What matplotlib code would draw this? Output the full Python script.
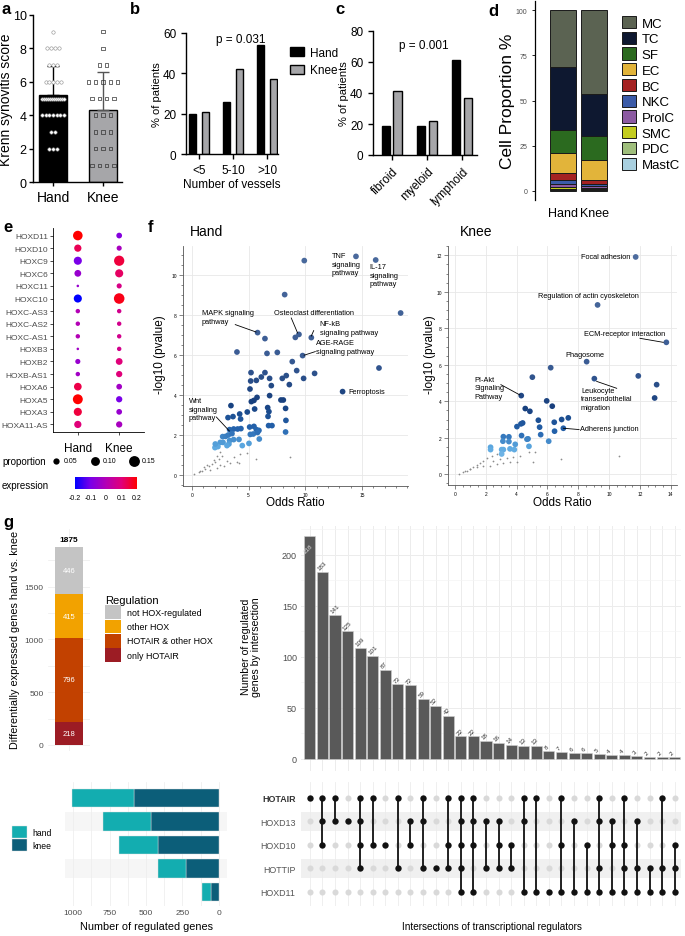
import numpy as np
import matplotlib

matplotlib.use("Agg")
import matplotlib.pyplot as plt
from matplotlib.cm import ScalarMappable
from matplotlib.colors import LinearSegmentedColormap, Normalize
from matplotlib.patches import Patch

W, H = 685, 937
plt.rcParams["font.family"] = ["Liberation Sans", "DejaVu Sans"]
plt.rcParams["axes.unicode_minus"] = False

# ---------------- data ----------------
# a: Krenn synovitis score per patient
hand_scores = [9] + [8] * 4 + [7] * 3 + [6] * 5 + [5] * 12 + [4] * 7 + [3] * 2 + [2] * 3
knee_scores = [9, 8, 7, 7] + [6] * 5 + [5] * 4 + [4] * 3 + [3] * 3 + [2] * 3 + [1] * 4

# b, c: % of patients
vessel_cats = ["<5", "5-10", ">10"]
vessel_hand = [20, 26, 54]
vessel_knee = [21, 42, 37]
infl_cats = ["fibroid", "myeloid", "lymphoid"]
infl_hand = [19, 19, 61]
infl_knee = [41, 22, 37]

# d: cell proportions (legend order, top of stack first)
cell_types = ["MC", "TC", "SF", "EC", "BC", "NKC", "ProlC", "SMC", "PDC", "MastC"]
cell_colors = ["#5b6352", "#0e1830", "#2b6a1f", "#e2b43a", "#a42222", "#3b5ba8",
               "#8c5aa2", "#c3cc1f", "#9fbe7c", "#a9d0e0"]
cell_hand = [31.7, 34.4, 12.8, 11.0, 3.9, 2.5, 1.7, 0.9, 0.6, 0.5]
cell_knee = [46.4, 23.0, 13.7, 10.7, 2.2, 1.4, 0.8, 0.7, 0.6, 0.5]

# e: HOX dot plot
hox_genes = ["HOXD11", "HOXD10", "HOXC9", "HOXC6", "HOXC11", "HOXC10", "HOXC-AS3",
             "HOXC-AS2", "HOXC-AS1", "HOXB3", "HOXB2", "HOXB-AS1", "HOXA6", "HOXA5",
             "HOXA3", "HOXA11-AS"]
prop_hand = [0.14, 0.08, 0.10, 0.07, 0.01, 0.10, 0.03, 0.03, 0.03, 0.01, 0.04, 0.03,
             0.09, 0.15, 0.10, 0.08]
prop_knee = [0.05, 0.04, 0.16, 0.10, 0.04, 0.17, 0.03, 0.03, 0.03, 0.03, 0.07, 0.06,
             0.05, 0.06, 0.05, 0.06]
expr_hand = [0.20, 0.13, -0.10, -0.05, -0.05, -0.20, 0.0, 0.0, 0.0, -0.03, -0.05, -0.03,
             0.14, 0.20, 0.15, 0.10]
expr_knee = [-0.08, -0.02, 0.15, 0.12, 0.08, 0.18, 0.07, 0.07, 0.07, 0.07, 0.10, 0.10,
             -0.03, -0.10, -0.05, -0.02]

# f: pathway enrichment (odds ratio, -log10 p)
hand_or = [14.47, 16.21, 9.91, 8.18, 18.41, 9.12, 9.44, 10.53, 5.79, 6.44, 3.97, 6.62,
           7.53, 9.76, 8.85, 16.50, 9.24, 10.82, 9.85, 13.29, 5.21, 6.44, 6.12, 6.85,
           7.97, 8.32, 5.18, 5.68, 8.59, 5.12, 7.00, 6.85, 5.74, 5.47, 5.24, 7.85, 8.06,
           3.44, 5.53, 6.68, 6.79, 8.26, 4.88, 4.21, 3.62, 3.18, 4.29, 6.71, 8.29, 5.09,
           5.47, 6.76, 7.06, 3.68, 4.03, 4.32, 3.32, 5.68, 5.91, 8.26, 2.71, 2.97, 3.21,
           3.53, 5.15, 5.41, 5.79, 2.74, 3.32, 3.68, 4.15, 5.94, 5.03, 4.44, 3.26, 2.50,
           2.29, 2.03, 3.09, 2.06]
hand_logp = [10.93, 10.75, 10.72, 9.02, 8.10, 6.88, 7.03, 6.87, 7.12, 6.82, 6.15, 6.08,
             6.13, 5.97, 5.67, 5.35, 5.22, 5.08, 4.83, 4.17, 5.12, 5.12, 4.90, 4.83,
             4.83, 4.97, 4.70, 4.73, 4.52, 4.30, 4.47, 3.97, 3.88, 3.73, 3.67, 3.75, 3.75,
             3.47, 3.30, 3.37, 3.17, 3.33, 3.15, 3.05, 2.92, 2.87, 2.80, 2.93, 2.73, 2.40,
             2.43, 2.47, 2.47, 2.30, 2.30, 2.32, 2.27, 2.27, 2.23, 2.15, 1.92, 1.93, 2.00,
             2.07, 2.03, 2.05, 2.13, 1.63, 1.72, 1.77, 1.78, 1.80, 1.58, 1.47, 1.55, 1.63,
             1.42, 1.37, 1.47, 1.55]
hand_bg_or = [0.15, 0.59, 0.88, 1.18, 1.47, 1.76, 2.06, 2.35, 2.65, 1.62, 2.21, 2.79,
              3.38, 3.97, 2.50, 3.09, 3.68, 4.26, 4.85, 1.91, 2.21, 2.50, 1.32, 1.03,
              5.65, 8.68, 4.12, 0.74]
hand_bg_logp = [0.05, 0.13, 0.22, 0.30, 0.43, 0.55, 0.67, 0.80, 0.93, 0.27, 0.37, 0.47,
                0.60, 0.67, 0.50, 0.72, 0.88, 1.05, 1.10, 0.77, 0.97, 1.13, 0.52, 0.38,
                0.78, 0.92, 0.60, 0.18]
knee_or = [11.72, 9.25, 13.71, 8.54, 6.21, 11.89, 5.02, 9.04, 13.08, 4.30, 12.95, 5.95,
           6.31, 4.56, 4.86, 5.41, 6.92, 7.35, 6.44, 4.39, 4.28, 4.02, 5.49, 7.03, 6.46,
           4.32, 5.56, 4.74, 4.67, 3.14, 3.50, 3.11, 3.50, 3.91, 6.08, 4.80, 2.31, 2.31,
           3.03, 3.14, 3.57, 3.85, 3.03]
knee_logp = [11.91, 9.28, 7.23, 6.17, 5.84, 5.39, 5.32, 5.24, 4.91, 4.31, 4.18, 4.02,
             3.73, 3.60, 3.45, 2.96, 3.00, 3.09, 2.85, 2.81, 2.76, 2.61, 2.58, 2.52, 2.36,
             2.12, 2.17, 1.94, 1.92, 2.06, 2.05, 1.81, 1.79, 1.64, 1.81, 1.53, 1.48, 1.35,
             1.35, 1.35, 1.39, 1.35, 1.11]
knee_bg_or = [0.28, 0.54, 0.76, 0.97, 1.19, 1.41, 1.62, 1.84, 2.05, 2.38, 2.70, 1.41,
              1.84, 2.27, 2.70, 3.14, 3.57, 4.00, 2.49, 2.92, 3.35, 3.78, 4.22, 4.78,
              5.21, 5.08, 6.88, 10.66, 0.97, 0.65]
knee_bg_logp = [0.0, 0.11, 0.18, 0.29, 0.40, 0.51, 0.62, 0.75, 0.88, 0.99, 1.10, 0.37,
                0.44, 0.47, 0.55, 0.62, 0.66, 0.66, 0.73, 0.84, 0.91, 0.95, 1.02, 1.21,
                1.21, 0.69, 0.84, 1.02, 0.26, 0.15]

# g: regulation of DE genes
reg_labels = ["only HOTAIR", "HOTAIR & other HOX", "other HOX", "not HOX-regulated"]
reg_counts = [218, 796, 415, 446]
reg_colors = ["#9c1c24", "#c24100", "#f2a200", "#c4c4c4"]

set_names = ["HOTAIR", "HOXD13", "HOXD10", "HOTTIP", "HOXD11"]
set_hand = [427, 326, 265, 190, 57]
set_knee = [582, 466, 420, 226, 57]

inter_sizes = [218, 183, 141, 125, 109, 101, 87, 73, 72, 59, 52, 42, 22, 22, 18, 16, 14,
               13, 13, 8, 7, 6, 6, 5, 4, 4, 3, 2, 2, 2]
inter_members = [
    "HOTAIR", "HOTAIR HOXD13 HOXD10", "HOTAIR HOXD13", "HOXD13",
    "HOTAIR HOXD13 HOXD10 HOTTIP", "HOTAIR HOXD10", "HOXD10", "HOTAIR HOTTIP",
    "HOXD13 HOXD10", "HOTAIR HOXD13 HOTTIP", "HOTTIP", "HOTAIR HOXD10 HOTTIP",
    "HOTAIR HOXD13 HOXD10 HOTTIP HOXD11", "HOTAIR HOXD13 HOXD10 HOXD11", "HOXD13 HOTTIP",
    "HOXD13 HOXD10 HOTTIP", "HOXD10 HOTTIP", "HOTAIR HOXD13 HOXD11", "HOTAIR HOXD11",
    "HOXD11", "HOTAIR HOXD10 HOXD11", "HOXD13 HOXD11", "HOXD10 HOXD11",
    "HOTAIR HOXD13 HOTTIP HOXD11", "HOXD13 HOXD10 HOXD11", "HOTAIR HOXD10 HOTTIP HOXD11",
    "HOXD13 HOTTIP HOXD11", "HOTTIP HOXD11", "HOTAIR HOTTIP HOXD11",
    "HOXD10 HOTTIP HOXD11",
]

# ---------------- helpers ----------------
fig = plt.figure(figsize=(W / 100, H / 100), dpi=100)


def box(l, t, r, b):
    """Axes placed by pixel edges (left, top, right, bottom)."""
    return fig.add_axes([l / W, 1 - b / H, (r - l) / W, (b - t) / H])


def label(x, y, s, **kw):
    fig.text(x / W, 1 - y / H, s, **kw)


for letter, (lx, ly) in zip("abcdefg", [(2, 9), (130, 10), (335, 10), (488, 12),
                                         (3, 228), (148, 228), (3, 523)]):
    label(lx, ly, letter, fontsize=12, fontweight="bold", va="center")

GREY_BAR = "#a6a6a9"

# ---------------- a ----------------
ax = box(33, 16, 122, 183)
groups = [hand_scores, knee_scores]
means = [np.mean(g) for g in groups]
sds = [np.std(g, ddof=1) for g in groups]
ax.bar([0, 1], means, width=0.56, color=["black", GREY_BAR], edgecolor="black", lw=1.0, zorder=1)
for i, (m, s) in enumerate(zip(means, sds)):
    ax.errorbar(i, m, yerr=[[0], [s]], fmt="none", ecolor="black" if i == 0 else "#555555",
                elinewidth=1, capsize=4, capthick=1, zorder=2)
for i, g, mk, step, span in [(0, hand_scores, "o", 0.075, 0.44), (1, knee_scores, "s", 0.145, 0.6)]:
    vals, counts = np.unique(g, return_counts=True)
    for v, n in zip(vals, counts):
        st = min(step, span / max(n - 1, 1))
        xs = i + (np.arange(n) - (n - 1) / 2) * st
        if i == 0:
            ax.scatter(xs, [v] * n, s=6, marker=mk, facecolor="white", edgecolor="#8a8a8a",
                       lw=0.4, zorder=3)
        else:
            ax.scatter(xs, [v] * n, s=6, marker=mk, facecolor="none", edgecolor="#333333",
                       lw=0.5, zorder=3)
ax.set_xlim(-0.4, 1.38)
ax.set_ylim(0, 10)
ax.set_yticks(range(0, 11, 2))
ax.set_xticks([0, 1], ["Hand", "Knee"])
ax.tick_params(labelsize=9, width=1, length=3, pad=1.5)
ax.tick_params(axis="x", labelsize=10, pad=3)
for sp in ["top", "right"]:
    ax.spines[sp].set_visible(False)
for sp in ["left", "bottom"]:
    ax.spines[sp].set_linewidth(1)
ax.set_ylabel("Krenn synovitis score", fontsize=10)
ax.yaxis.set_label_coords(-0.225, 0.5)


# ---------------- b, c ----------------
def grouped(ax, cats, hv, kv, ymax, yticks, off, width):
    x = np.arange(len(cats))
    ax.bar(x - off, hv, width, color="black", edgecolor="black", lw=1, label="Hand")
    ax.bar(x + off, kv, width, color=GREY_BAR, edgecolor="black", lw=1, label="Knee")
    ax.set_ylim(0, ymax)
    ax.set_yticks(yticks)
    for sp in ["top", "right"]:
        ax.spines[sp].set_visible(False)
    for sp in ["left", "bottom"]:
        ax.spines[sp].set_linewidth(1)
    ax.tick_params(labelsize=8.5, width=1, length=3.5)
    ax.set_ylabel("% of patients", fontsize=8, labelpad=1)
    return x


ax = box(186, 34, 278, 155)
x = grouped(ax, vessel_cats, vessel_hand, vessel_knee, 60, [0, 20, 40, 60], 0.19, 0.22)
ax.set_xlim(-0.38, 2.32)
ax.set_xticks(x, vessel_cats)
ax.set_xlabel("Number of vessels", fontsize=8.5, labelpad=2)
ax.text(1.24, 57, "p = 0.031", ha="center", va="center", fontsize=8.5)
ax.legend(loc="upper left", bbox_to_anchor=(290 / W, 1 - 48 / H), bbox_transform=fig.transFigure,
          frameon=False, fontsize=8.5, handlelength=1.2, handleheight=0.8, handletextpad=0.5,
          borderpad=0, borderaxespad=0, labelspacing=0.45)

ax = box(373, 32, 477, 156)
x = grouped(ax, infl_cats, infl_hand, infl_knee, 80, [0, 20, 40, 60, 80], 0.17, 0.25)
ax.set_xlim(-0.54, 2.43)
ax.set_xticks(x, infl_cats, rotation=45, ha="right", rotation_mode="anchor")
ax.text(0.9, 71, "p = 0.001", ha="center", va="center", fontsize=8.5)

# ---------------- d ----------------
ax = box(535, 2, 622, 201)
bottom = np.zeros(2)
handles = []
for ct, col, hv, kv in reversed(list(zip(cell_types, cell_colors, cell_hand, cell_knee))):
    ax.bar([0, 1], [hv, kv], bottom=bottom, width=0.84, color=col, edgecolor="#1a1a1a", lw=0.7)
    bottom += [hv, kv]
    handles.append(Patch(facecolor=col, edgecolor="#1a1a1a", lw=0.7, label=ct))
ax.set_xlim(-0.9, 1.9)
ax.set_ylim(-5, 105)
ax.set_yticks([0, 25, 50, 75, 100])
ax.set_xticks([0, 1], ["Hand", "Knee"])
ax.tick_params(axis="y", labelsize=5, labelcolor="#4d4d4d", length=2, width=0.6)
ax.tick_params(axis="x", labelsize=9, length=0, pad=5)
for sp in ["top", "right", "bottom"]:
    ax.spines[sp].set_visible(False)
ax.spines["left"].set_linewidth(0.9)
ax.set_ylabel("Cell Proportion %", fontsize=12.5)
ax.yaxis.set_label_coords(-0.23, 0.5)
ax.legend(handles=handles[::-1], loc="upper left", bbox_to_anchor=(622 / W, 1 - 17 / H),
          bbox_transform=fig.transFigure, frameon=False, fontsize=9.5, handlelength=1.05,
          handleheight=1.05, handletextpad=0.45, borderpad=0, borderaxespad=0, labelspacing=0.16)

# ---------------- e ----------------
expr_cmap = LinearSegmentedColormap.from_list(
    "expr", ["#0000ff", "#7a00e8", "#b300b5", "#e0007a", "#ff0000"])
expr_norm = Normalize(-0.2, 0.2)
SIZE_K = 340

ax = box(53, 229, 144, 433)
ys = np.arange(len(hox_genes))
for xi, props, exprs in [(0, prop_hand, expr_hand), (1, prop_knee, expr_knee)]:
    ax.scatter(np.full(len(ys), xi), ys, s=np.array(props) * SIZE_K, c=exprs, cmap=expr_cmap,
               norm=expr_norm, lw=0)
ax.set_xlim(-0.6, 1.6)
ax.set_ylim(len(hox_genes) - 0.4, -0.6)
ax.set_yticks(ys, hox_genes)
ax.set_xticks([0, 1], ["Hand", "Knee"])
ax.tick_params(axis="y", labelsize=6, labelcolor="#4d4d4d", length=2, width=0.5, pad=1.5)
ax.tick_params(axis="x", labelsize=8.5, length=2, width=0.5, pad=5)
for sp in ["top", "right"]:
    ax.spines[sp].set_visible(False)
for sp in ["left", "bottom"]:
    ax.spines[sp].set_linewidth(0.6)

lax = box(0, 452, 180, 472)
lax.set_xlim(0, 180)
lax.set_ylim(20, 0)
lax.axis("off")
lax.text(2, 10, "proportion", fontsize=7, va="center")
for px_, p in zip([56, 95, 134], [0.05, 0.10, 0.15]):
    lax.scatter([px_], [10], s=p * SIZE_K * 1.2, color="black", lw=0)
    lax.text(px_ + 8, 10, f"{p:.2f}", fontsize=5, va="center")

cax = box(75, 478, 137, 490)
cb = fig.colorbar(ScalarMappable(norm=expr_norm, cmap=expr_cmap), cax=cax, orientation="horizontal")
cb.set_ticks([-0.2, -0.1, 0, 0.1, 0.2], labels=["-0.2", "-0.1", "0", "0.1", "0.2"])
cb.ax.tick_params(labelsize=5, length=2.5, color="white", pad=1)
cb.outline.set_visible(False)
label(2, 486, "expression", fontsize=7, va="center")

# ---------------- f ----------------
enr_cmap = LinearSegmentedColormap.from_list(
    "enr", [(0, "#a8d6f3"), (0.12, "#5ba8e0"), (0.19, "#2463ad"), (0.3, "#173f7d"),
            (0.5, "#3a5c94"), (1, "#4d6c9e")])


def enrich(ax, o, p, bo, bp, xlim, ylim, xticks, yticks):
    ax.scatter(bo, bp, s=1.6, color="#8c8c8c", lw=0, zorder=2)
    ax.scatter(o, p, s=17, c=p, cmap=enr_cmap, norm=Normalize(0, 12), lw=0, zorder=3)
    ax.set_xlim(*xlim)
    ax.set_ylim(*ylim)
    ax.set_xticks(xticks)
    ax.set_yticks(yticks)
    ax.minorticks_on()
    ax.grid(True, which="major", color="#e8e8e8", lw=0.6, zorder=0)
    ax.tick_params(which="both", labelsize=3.5, color="#555555", width=0.5, pad=1.5)
    ax.tick_params(which="major", length=3)
    ax.tick_params(which="minor", length=1.5)
    for sp in ["top", "right"]:
        ax.spines[sp].set_visible(False)
    for sp in ["left", "bottom"]:
        ax.spines[sp].set_color("#555555")
        ax.spines[sp].set_linewidth(0.6)


def note(ax, s, x, y, ha="left", va="top", line=None):
    ax.text(x, y, s, fontsize=5.3, ha=ha, va=va, linespacing=1.3, zorder=4)
    if line is not None:
        (x0, y0), (x1, y1) = line
        ax.plot([x0, x1], [y0, y1], color="black", lw=0.6, zorder=4)


ax = box(183, 247, 408, 487)
enrich(ax, hand_or, hand_logp, hand_bg_or, hand_bg_logp, (-0.79, 19.06), (-0.55, 11.45),
       [0, 5, 10, 15], range(0, 11, 2))
note(ax, "TNF\nsignaling\npathway", 12.35, 11.15)
note(ax, "IL-17\nsignaling\npathway", 15.68, 10.6)
note(ax, "Osteoclast differentiation", 10.8, 8.13, ha="center", va="center",
     line=((8.76, 7.85), (9.32, 7.1)))
note(ax, "NF-kB\nsignaling pathway", 11.26, 7.75, line=((10.74, 7.22), (10.53, 6.95)))
note(ax, "AGE-RAGE\nsignaling pathway", 10.97, 6.78, line=((10.88, 6.17), (9.9, 5.99)))
note(ax, "MAPK signaling\npathway", 0.88, 8.28, line=((3.82, 7.52), (5.65, 7.15)))
note(ax, "Ferroptosis", 13.82, 4.18, va="center")
note(ax, "Wnt\nsignaling\npathway", -0.29, 3.9, line=((2.15, 2.9), (3.3, 2.2)))
label(190, 232, "Hand", fontsize=10, va="center")
label(160, 355, "-log10 (pvalue)", fontsize=8.5, rotation=90, ha="center", va="center")
label(295, 503, "Odds Ratio", fontsize=8.5, ha="center", va="center")

ax = box(448, 247, 677, 486)
enrich(ax, knee_or, knee_logp, knee_bg_or, knee_bg_logp, (-0.45, 14.4), (-0.59, 12.51),
       range(0, 15, 2), range(0, 13, 2))
note(ax, "Focal adhesion", 11.35, 11.95, ha="right", va="center")
note(ax, "Regulation of actin cyoskeleton", 8.65, 9.79, ha="center", va="center")
note(ax, "ECM-receptor interaction", 11.03, 7.69, ha="center", va="center",
     line=((12.0, 7.45), (13.51, 7.23)))
note(ax, "Phagosome", 8.45, 6.56, ha="center", va="center")
note(ax, "PI-Akt\nSignaling\nPathway", 1.25, 5.4, line=((2.98, 4.91), (4.2, 4.35)))
note(ax, "Leukocyte\ntransendothelial\nmigration", 8.17, 4.8, line=((9.19, 5.09), (10.49, 4.71)))
note(ax, "Adherens junction", 8.1, 2.48, va="center", line=((7.03, 2.52), (8.05, 2.45)))
label(460, 232, "Knee", fontsize=10, va="center")
label(430, 355, "-log10 (pvalue)", fontsize=8.5, rotation=90, ha="center", va="center")
label(562, 503, "Odds Ratio", fontsize=8.5, ha="center", va="center")

# ---------------- g: stacked regulation bar ----------------
GRID = "#ececec"
ax = box(48, 530, 90, 752)
bottom = 0
bars = []
for lab, cnt, col in zip(reg_labels, reg_counts, reg_colors):
    b = ax.bar(0, cnt, bottom=bottom, width=1.0, color=col, label=lab, zorder=2)
    bars.append(b)
    ax.text(0, bottom + cnt / 2, str(cnt), color="white", fontsize=5.5, ha="center",
            va="center", zorder=3)
    bottom += cnt
ax.text(0, bottom + 40, str(bottom), fontsize=6, fontweight="bold", ha="center", va="bottom")
ax.set_xlim(-0.75, 0.75)
ax.set_ylim(-57, 2047)
ax.set_yticks([0, 500, 1000, 1500])
ax.set_yticks([250, 750, 1250, 1750], minor=True)
ax.set_xticks([0], [""])
ax.grid(True, which="both", color=GRID, lw=0.5, zorder=0)
ax.tick_params(which="both", length=0, labelsize=6, labelcolor="#4d4d4d", pad=3)
for sp in ax.spines.values():
    sp.set_visible(False)
label(15, 640, "Differentially expressed genes hand vs. knee", fontsize=7.8, rotation=90,
      ha="center", va="center")
ax.legend(handles=[b for b in bars[::-1]], labels=reg_labels[::-1], title="Regulation",
          loc="upper left", bbox_to_anchor=(105 / W, 1 - 596 / H), bbox_transform=fig.transFigure,
          frameon=False, fontsize=6.4, title_fontsize=8, handlelength=1.8, handleheight=2.0,
          handletextpad=0.7, labelspacing=0.05, borderpad=0, borderaxespad=0, alignment="left")

# ---------------- g: intersection bars ----------------
n_int = len(inter_sizes)
cols = np.arange(n_int)
ax = box(301, 527, 681, 772)
ax.bar(cols, inter_sizes, width=0.88, color="#595959", edgecolor="#d0d0d0", lw=0.4, zorder=2)
for c, v in zip(cols, inter_sizes):
    if v > 205:
        ax.text(c - 0.15, v - 6, str(v), rotation=45, fontsize=4.5, color="#dddddd",
                ha="center", va="top", zorder=3)
    else:
        ax.text(c - 0.15, v + 1, str(v), rotation=45, fontsize=4.5, color="#333333",
                ha="left", va="bottom", rotation_mode="anchor", zorder=3)
ax.set_xlim(-0.7, n_int - 0.5)
ax.set_ylim(-11.8, 228)
ax.set_yticks([0, 50, 100, 150, 200])
ax.set_yticks([25, 75, 125, 175, 225], minor=True)
ax.set_xticks(cols, [""] * n_int)
ax.grid(True, which="major", color=GRID, lw=0.7, zorder=0)
ax.grid(True, which="minor", axis="y", color="#f4f4f4", lw=0.5, zorder=0)
ax.tick_params(which="both", length=0, labelsize=6.5, labelcolor="#4d4d4d", pad=3)
for sp in ax.spines.values():
    sp.set_visible(False)
label(251, 647, "Number of regulated\ngenes by intersection", fontsize=7.6, rotation=90,
      ha="center", va="center", linespacing=1.05)

# ---------------- g: matrix ----------------
ax = box(301, 783, 681, 907)
n_sets = len(set_names)
for r in (1, 3):
    ax.axhspan(r - 0.4, r + 0.4, color="#f0f0f0", lw=0, zorder=0)
for c, members in zip(cols, inter_members):
    on = [set_names.index(m) for m in members.split()]
    off = [r for r in range(n_sets) if r not in on]
    ax.scatter([c] * len(off), off, s=19, color="#d9d9d9", lw=0, zorder=2)
    ax.scatter([c] * len(on), on, s=21, color="#111111", lw=0, zorder=3)
    if len(on) > 1:
        ax.plot([c, c], [min(on), max(on)], color="#111111", lw=1.3, zorder=2)
ax.set_xlim(-0.7, n_int - 0.5)
ax.set_ylim(n_sets - 0.4, -0.68)
ax.set_xticks(cols, [""] * n_int)
ax.set_yticks(range(n_sets), set_names)
ax.grid(True, axis="x", color=GRID, lw=0.6, zorder=0)
ax.tick_params(length=0, labelsize=6.4, labelcolor="#555555", pad=4)
ax.get_yticklabels()[0].set_fontweight("bold")
ax.get_yticklabels()[0].set_color("#333333")
for sp in ax.spines.values():
    sp.set_visible(False)
label(492, 927, "Intersections of transcriptional regulators", fontsize=7.2, ha="center",
      va="center")

# ---------------- g: set sizes ----------------
ax = box(65, 783, 227, 907)
for r in (1, 3):
    ax.axhspan(r - 0.4, r + 0.4, color="#f6f6f6", lw=0, zorder=0)
rows = np.arange(n_sets)
ax.barh(rows, set_knee, height=0.79, color="#0c5e79", edgecolor="#e0e0e0", lw=0.3,
        label="knee", zorder=2)
ax.barh(rows, set_hand, left=set_knee, height=0.79, color="#13adb0", edgecolor="#e0e0e0",
        lw=0.3, label="hand", zorder=2)
ax.set_xlim(1055, -55)
ax.set_ylim(n_sets - 0.4, -0.68)
ax.set_xticks([1000, 750, 500, 250, 0])
ax.set_xticks([875, 625, 375, 125], minor=True)
ax.set_yticks([])
ax.grid(True, which="both", axis="x", color=GRID, lw=0.5, zorder=0)
ax.tick_params(which="both", length=0, labelsize=6, labelcolor="#4d4d4d", pad=2)
for sp in ax.spines.values():
    sp.set_visible(False)
label(147, 927, "Number of regulated genes", fontsize=7.8, ha="center", va="center")
h_, l_ = ax.get_legend_handles_labels()
ax.legend(h_[::-1], l_[::-1], loc="upper left", bbox_to_anchor=(12 / W, 1 - 827 / H),
          bbox_transform=fig.transFigure, frameon=False, fontsize=6.2, handlelength=1.7,
          handleheight=1.75, handletextpad=0.7, labelspacing=0.1, borderpad=0, borderaxespad=0)

fig.savefig("out.png", dpi=100)
